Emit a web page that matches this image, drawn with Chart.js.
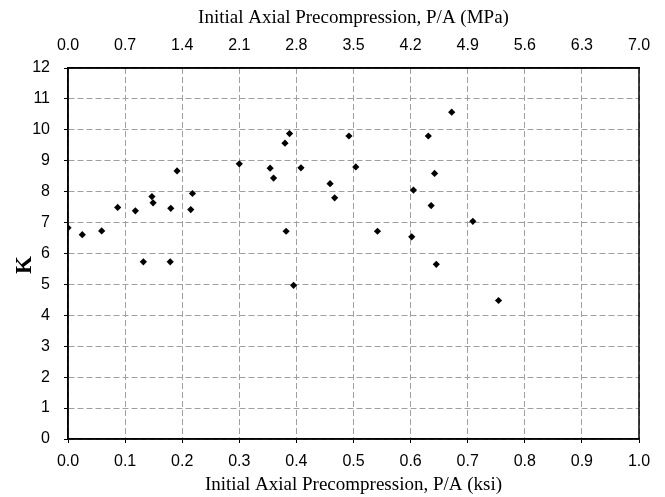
<!DOCTYPE html>
<html>
<head>
<meta charset="utf-8">
<script src="https://cdn.jsdelivr.net/npm/chart.js@4"></script>
<style>
  html, body { margin: 0; padding: 0; background: #fff; }
  #wrap { width: 665px; height: 497px; }
</style>
</head>
<body>
<div id="wrap"><canvas id="kChart"></canvas></div>
<script>
// P/A in ksi (bottom axis) and K values
const pa = [0.000, 0.025, 0.059, 0.087, 0.118, 0.132, 0.147, 0.149, 0.180, 0.179,
            0.191, 0.215, 0.218, 0.300, 0.354, 0.360, 0.380, 0.388, 0.382, 0.395,
            0.408, 0.459, 0.467, 0.492, 0.504, 0.542, 0.602, 0.605, 0.631, 0.636,
            0.642, 0.645, 0.672, 0.709, 0.754];
const kVals = [6.83, 6.61, 6.73, 7.49, 7.38, 5.73, 7.84, 7.64, 7.46, 5.73,
               8.67, 7.42, 7.94, 8.90, 8.76, 8.44, 9.57, 9.88, 6.72, 4.97,
               8.77, 8.26, 7.80, 9.80, 8.80, 6.72, 6.54, 8.05, 9.80, 7.55,
               8.59, 5.65, 10.57, 7.04, 4.48];

// tick labels
const ksiTicks = [0.0, 0.1, 0.2, 0.3, 0.4, 0.5, 0.6, 0.7, 0.8, 0.9, 1.0];
const mpaTicks = [0.0, 0.7, 1.4, 2.1, 2.8, 3.5, 4.2, 4.9, 5.6, 6.3, 7.0];
const kTicks = [0, 1, 2, 3, 4, 5, 6, 7, 8, 9, 10, 11, 12];

const points = pa.map((x, i) => ({ x: x, y: kVals[i] }));

// draw the plot box
const boxPlugin = {
    id: 'box',
    afterDraw(chart) {
        const a = chart.chartArea;
        const c = chart.ctx;
        c.save();
        c.strokeStyle = '#000';
        c.lineWidth = 1.5;
        c.strokeRect(a.left, a.top, a.right - a.left, a.bottom - a.top);
        c.restore();
    }
};

const tickFont = { family: 'Liberation Sans, Arial, sans-serif', size: 16 };
const titleFont = { family: 'Liberation Serif, Times New Roman, serif', size: 19 };
const gridStyle = { color: '#a0a0a0', lineWidth: 1, tickLength: 4, tickColor: '#000' };

const ctx = document.getElementById('kChart').getContext('2d');
const kChart = new Chart(ctx, {
    type: 'scatter',
    data: {
        datasets: [{
            label: 'K',
            data: points,
            pointStyle: 'rectRot',
            pointRadius: 3.6,
            pointHoverRadius: 3.6,
            backgroundColor: '#000',
            borderColor: '#000',
            borderWidth: 0
        }]
    },
    options: {
        responsive: true,
        maintainAspectRatio: false,
        animation: false,
        layout: { padding: { left: 0, right: 26, top: 0, bottom: 0 } },
        plugins: {
            legend: { display: false },
            tooltip: { enabled: false }
        },
        scales: {
            x: {
                type: 'linear',
                position: 'bottom',
                min: 0,
                max: 1,
                afterBuildTicks: s => { s.ticks = ksiTicks.map(v => ({ value: v })); },
                afterFit: s => { s.height = 58; },
                ticks: {
                    color: '#000',
                    font: tickFont,
                    padding: 9,
                    maxRotation: 0,
                    callback: v => Number(v).toFixed(1)
                },
                grid: gridStyle,
                border: { color: '#000', width: 1.5, dash: [6, 3] },
                title: {
                    display: true,
                    text: 'Initial Axial Precompression, P/A (ksi)',
                    color: '#000',
                    font: titleFont,
                    padding: { top: 0, bottom: 1 }
                }
            },
            x2: {
                type: 'linear',
                position: 'top',
                min: 0,
                max: 7,
                afterBuildTicks: s => { s.ticks = mpaTicks.map(v => ({ value: v })); },
                afterFit: s => { s.height = 68; },
                ticks: {
                    color: '#000',
                    font: tickFont,
                    padding: 13,
                    maxRotation: 0,
                    callback: v => Number(v).toFixed(1)
                },
                grid: { display: false, drawTicks: false },
                border: { color: '#000', width: 1.5 },
                title: {
                    display: true,
                    text: 'Initial Axial Precompression, P/A (MPa)',
                    color: '#000',
                    font: titleFont,
                    padding: { top: 7, bottom: 0 }
                }
            },
            y: {
                type: 'linear',
                position: 'left',
                min: 0,
                max: 12,
                afterBuildTicks: s => { s.ticks = kTicks.map(v => ({ value: v })); },
                afterFit: s => { s.width = 68; },
                ticks: {
                    color: '#000',
                    font: tickFont,
                    padding: 14
                },
                grid: gridStyle,
                border: { color: '#000', width: 1.5, dash: [6, 3] },
                title: {
                    display: true,
                    text: 'K    ',
                    color: '#000',
                    font: { family: 'Liberation Serif, Times New Roman, serif', size: 23, weight: 'bold' },
                    padding: { top: 11, bottom: 0 }
                }
            }
        }
    },
    plugins: [boxPlugin]
});
</script>
</body>
</html>
